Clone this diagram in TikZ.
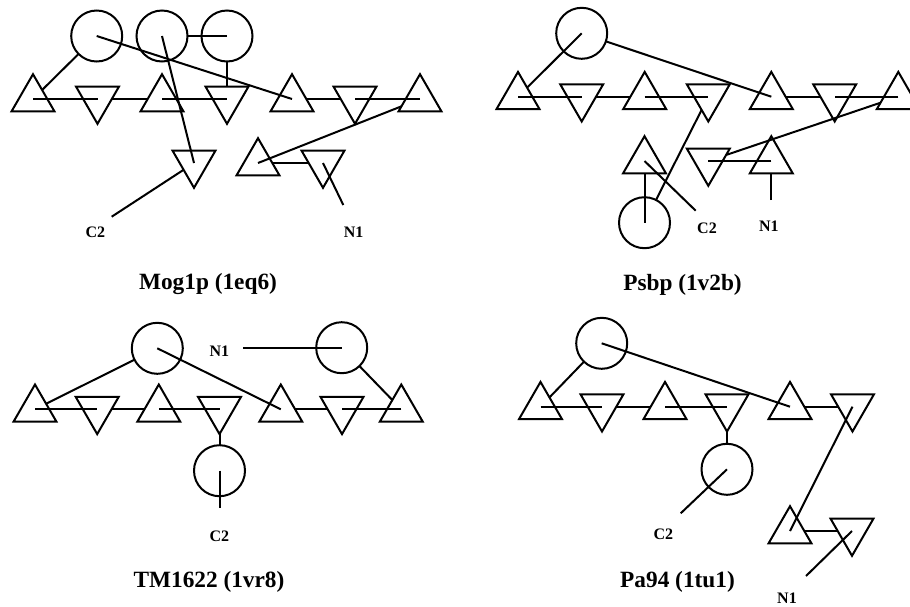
\documentclass[tikz,border=0pt]{standalone}
\usepackage{fontspec}
\setmainfont{Liberation Serif}
\usetikzlibrary{shapes.geometric}
\tikzset{
  su/.style={draw, regular polygon, regular polygon sides=3, minimum size=49.6pt, inner sep=0pt, outer sep=0pt},
  sd/.style={su, shape border rotate=180},
  hx/.style={draw, circle, minimum size=51pt, inner sep=0pt, outer sep=0pt},
  lab/.style={font=\fontsize{16}{16}\selectfont\bfseries, anchor=base, inner sep=0pt},
  ttl/.style={font=\fontsize{23.3}{23.3}\selectfont\bfseries, anchor=base, inner sep=0pt},
}
\begin{document}
\begin{tikzpicture}[x=1pt, y=-1pt, line width=2pt]
\useasboundingbox (0,0) rectangle (910,606);
% ---------- Panel 1: Mog1p ----------
\node[su] (a1) at (33,99) {};
\node[sd] (a2) at (97.5,99) {};
\node[su] (a3) at (162,99) {};
\node[sd] (a4) at (227,99) {};
\node[su] (a5) at (292,99) {};
\node[sd] (a6) at (355,99) {};
\node[su] (a7) at (420,99) {};
\node[hx] (ah1) at (96.7,36) {};
\node[hx] (ah2) at (162,36) {};
\node[hx] (ah3) at (227,36) {};
\node[sd] (a8) at (194,163) {};
\node[su] (a9) at (258,163) {};
\node[sd] (a10) at (323,163) {};
\coordinate (an) at (343.3,205);
\coordinate (ac) at (111.7,216.7);
\node[lab] (aN) at (353.7,237.7) {N1};
\node[lab] (aC) at (95.3,237.7) {C2};
\node[ttl] (aT) at (208,289) {Mog1p (1eq6)};
\draw (an) -- (a10.center);
\draw (a10) -- (a9);
\draw (a9.center) -- (a7);
\draw (a7.center) -- (a6.center);
\draw (a6) -- (a5);
\draw (a5.center) -- (ah1.center);
\draw (ah1) -- (a1);
\draw (a1.center) -- (a2.center);
\draw (a2) -- (a3);
\draw (a3.center) -- (a4.center);
\draw (a4) -- (ah3);
\draw (ah3.center) -- (ah2);
\draw (ah2.center) -- (a8.center);
\draw (a8) -- (ac);
% ---------- Panel 2: Psbp ----------
\node[su] (b1) at (518,96.7) {};
\node[sd] (b2) at (581.7,96.7) {};
\node[su] (b3) at (644.7,96.7) {};
\node[sd] (b4) at (708.3,96.7) {};
\node[su] (b5) at (771.3,96.7) {};
\node[sd] (b6) at (834.7,96.7) {};
\node[su] (b7) at (898.3,96.7) {};
\node[hx] (bh1) at (581.7,33.3) {};
\node[su] (b8) at (644.5,161) {};
\node[sd] (b9) at (708.3,161) {};
\node[su] (b10) at (771.3,161) {};
\node[hx] (bh2) at (644.5,222.7) {};
\coordinate (bn) at (771.3,200);
\coordinate (bc) at (695.7,210.7);
\node[lab] (bN) at (768.8,231.7) {N1};
\node[lab] (bC) at (707,233.3) {C2};
\node[ttl] (bT) at (682.5,290) {Psbp (1v2b)};
\draw (bn) -- (b10);
\draw (b10.center) -- (b9.center);
\draw (b9) -- (b7);
\draw (b7.center) -- (b6.center);
\draw (b6) -- (b5);
\draw (b5.center) -- (bh1);
\draw (bh1.center) -- (b1);
\draw (b1.center) -- (b2.center);
\draw (b2) -- (b3);
\draw (b3.center) -- (b4.center);
\draw (b4) -- (bh2);
\draw (bh2.center) -- (b8);
\draw (b8.center) -- (bc);
% ---------- Panel 3: TM1622 ----------
\node[su] (c1) at (35,409.3) {};
\node[sd] (c2) at (97.2,409.3) {};
\node[su] (c3) at (158.8,409.3) {};
\node[sd] (c4) at (219.5,409.3) {};
\node[su] (c5) at (280.8,409.3) {};
\node[sd] (c6) at (342,409.3) {};
\node[su] (c7) at (401.3,409.3) {};
\node[hx] (ch1) at (157.3,348.3) {};
\node[hx] (ch2) at (341.7,347.7) {};
\node[hx] (ch3) at (219.5,470.7) {};
\coordinate (cn) at (243.3,347.7);
\coordinate (cc) at (219.5,508.3);
\node[lab] (cN) at (219.3,356) {N1};
\node[lab] (cC) at (219.3,541.7) {C2};
\node[ttl] (cT) at (209,587.3) {TM1622 (1vr8)};
\draw (cn) -- (ch2.center);
\draw (ch2) -- (c7);
\draw (c7.center) -- (c6.center);
\draw (c6) -- (c5);
\draw (c5.center) -- (ch1.center);
\draw (ch1) -- (c1);
\draw (c1.center) -- (c2.center);
\draw (c2) -- (c3);
\draw (c3.center) -- (c4.center);
\draw (c4) -- (ch3);
\draw (ch3.center) -- (cc);
% ---------- Panel 4: Pa94 ----------
\node[su] (d1) at (540.5,406.7) {};
\node[sd] (d2) at (602,406.7) {};
\node[su] (d3) at (665,406.7) {};
\node[sd] (d4) at (727,406.7) {};
\node[su] (d5) at (790,406.7) {};
\node[sd] (d6) at (852.5,406.7) {};
\node[hx] (dh1) at (601.7,343.3) {};
\node[hx] (dh2) at (727,469.3) {};
\node[su] (d7) at (790,531) {};
\node[sd] (d8) at (852,531) {};
\coordinate (dn) at (806,576);
\coordinate (dc) at (680.7,513.3);
\node[lab] (dC) at (663.3,539.3) {C2};
\node[lab] (dN) at (787,603.3) {N1};
\node[ttl] (dT) at (677.5,587.3) {Pa94 (1tu1)};
\draw (dn) -- (d8.center);
\draw (d8) -- (d7);
\draw (d7.center) -- (d6.center);
\draw (d6) -- (d5);
\draw (d5.center) -- (dh1.center);
\draw (dh1) -- (d1);
\draw (d1.center) -- (d2.center);
\draw (d2) -- (d3);
\draw (d3.center) -- (d4.center);
\draw (d4) -- (dh2);
\draw (dh2.center) -- (dc);
\end{tikzpicture}
\end{document}
